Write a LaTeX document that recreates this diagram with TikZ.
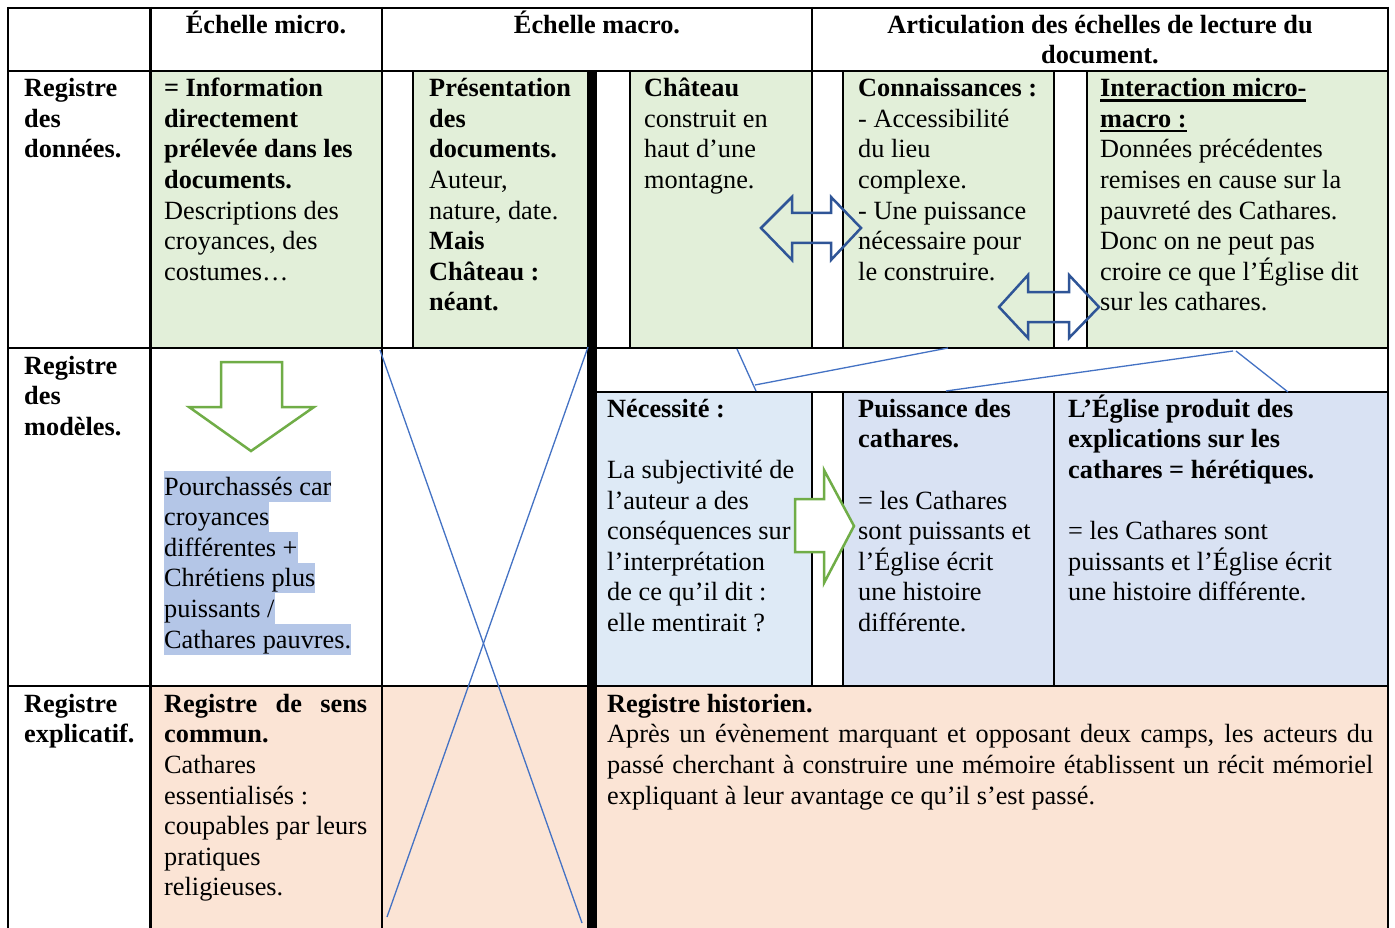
\documentclass[tikz,border=0pt]{standalone}
\usepackage{fontspec}
\setmainfont{Liberation Serif}
\definecolor{cgreen}{HTML}{E2EFD9}
\definecolor{cblueA}{HTML}{DEEAF6}
\definecolor{cblueB}{HTML}{D9E2F3}
\definecolor{cpeach}{HTML}{FBE4D5}
\definecolor{chl}{HTML}{B4C6E7}
\definecolor{carrowgreen}{HTML}{70AD47}
\definecolor{carrowblue}{HTML}{2F5597}
\definecolor{cthin}{HTML}{4472C4}
\newcommand\myul[1]{\setbox0\hbox{#1}\rlap{\rule[-5pt]{\wd0}{2.4pt}}\box0}
\newcommand\fs{\rule{0pt}{25pt}}
\begin{document}
\begin{tikzpicture}[x=1pt,y=-1pt,
  txt/.style={anchor=north west, yshift=25pt, align=left, inner sep=0pt, font=\fontsize{26.3}{30.6}\selectfont},
  ctr/.style={anchor=north, yshift=25pt, align=center, inner sep=0pt, font=\fontsize{26.3}{30.6}\selectfont\bfseries},
  grid/.style={line width=2pt, black},
  thinline/.style={cthin, line width=1.3pt},
  hl/.style={anchor=base west, inner sep=0pt, fill=chl, text height=24pt, text depth=6.6pt, font=\fontsize{26.3}{30.6}\selectfont},
  garrow/.style={draw=carrowgreen, line width=2.5pt, fill=white, line join=miter},
  barrow/.style={draw=carrowblue, line width=2.5pt, line join=miter}]
\useasboundingbox (0,0) rectangle (1395,928);
\fill[white] (0,0) rectangle (1395,928);
% cell fills
\fill[cgreen] (150,71) rectangle (382,348);
\fill[cgreen] (413,71) rectangle (587,348);
\fill[cgreen] (630,71) rectangle (812,348);
\fill[cgreen] (843,71) rectangle (1054,348);
\fill[cgreen] (1087,71) rectangle (1388,348);
\fill[cblueA] (597,392) rectangle (812,686);
\fill[cblueB] (843,392) rectangle (1388,686);
\fill[cpeach] (150,686) rectangle (587,928);
\fill[cpeach] (597,686) rectangle (1388,928);
% grid
\draw[grid] (8,8) -- (1388,8);
\draw[grid] (8,71) -- (1388,71);
\draw[grid] (8,348) -- (1388,348);
\draw[grid] (597,392) -- (1388,392);
\draw[grid] (8,686) -- (1388,686);
\draw[grid] (8,7) -- (8,928);
\draw[grid,line width=3pt] (150,7) -- (150,928);
\draw[grid] (382,7) -- (382,928);
\draw[grid] (413,71) -- (413,348);
\draw[grid] (630,71) -- (630,348);
\draw[grid] (812,7) -- (812,348);
\draw[grid] (812,392) -- (812,686);
\draw[grid] (843,71) -- (843,348);
\draw[grid] (843,392) -- (843,686);
\draw[grid] (1054,71) -- (1054,348);
\draw[grid] (1054,392) -- (1054,686);
\draw[grid] (1087,71) -- (1087,348);
\draw[grid] (1388,7) -- (1388,928);
\fill[black] (587,70) rectangle (597,928);
% header
\node[ctr] (h1) at (266,33) {\fs Échelle micro.};
\node[ctr] (h2) at (597,33) {\fs Échelle macro.};
\node[ctr] (h3) at (1100,33) {\fs Articulation des échelles de lecture du\\document.};
% row 1
\node[txt] (r1) at (24,96.5) {\fs\textbf{Registre}\\\textbf{des}\\\textbf{données.}};
\node[txt] (c11) at (164,96.5) {\fs\textbf{= Information}\\\textbf{directement}\\\textbf{prélevée dans les}\\\textbf{documents.}\\Descriptions des\\croyances, des\\costumes…};
\node[txt] (c12) at (429,96.5) {\fs\textbf{Présentation}\\\textbf{des}\\\textbf{documents.}\\Auteur,\\nature, date.\\\textbf{Mais}\\\textbf{Château :}\\\textbf{néant.}};
\node[txt] (c13) at (644,96.5) {\fs\textbf{Château}\\construit en\\haut d’une\\montagne.};
\node[txt] (c14) at (858,96.5) {\fs\textbf{Connaissances :}\\- Accessibilité\\du lieu\\complexe.\\- Une puissance\\nécessaire pour\\le construire.};
\node[txt] (c15) at (1100,96.5) {\fs\textbf{\myul{Interaction micro-}}\\\textbf{\myul{macro :}}\\Données précédentes\\remises en cause sur la\\pauvreté des Cathares.\\Donc on ne peut pas\\croire ce que l’Église dit\\sur les cathares.};
% row 2
\node[txt] (r2) at (24,374) {\fs\textbf{Registre}\\\textbf{des}\\\textbf{modèles.}};
\node[hl] (p1) at (164,495) {Pourchassés car\ };
\node[hl] (p2) at (164,525.6) {croyances\ };
\node[hl] (p3) at (164,556.2) {différentes +\ };
\node[hl] (p4) at (164,586.8) {Chrétiens plus\ };
\node[hl] (p5) at (164,617.4) {puissants /\ };
\node[hl] (p6) at (164,648) {Cathares pauvres.};
\node[txt] (c23) at (607,417) {\fs\textbf{Nécessité :}\\[30.6pt]La subjectivité de\\l’auteur a des\\conséquences sur\\l’interprétation\\de ce qu’il dit :\\elle mentirait ?};
\node[txt] (c24) at (858,417) {\fs\textbf{Puissance des}\\\textbf{cathares.}\\[30.6pt]= les Cathares\\sont puissants et\\l’Église écrit\\une histoire\\différente.};
\node[txt] (c25) at (1068,417) {\fs\textbf{L’Église produit des}\\\textbf{explications sur les}\\\textbf{cathares = hérétiques.}\\[30.6pt]= les Cathares sont\\puissants et l’Église écrit\\une histoire différente.};
% row 3
\node[txt] (r3) at (24,712) {\fs\textbf{Registre}\\\textbf{explicatif.}};
\node[txt] (c31) at (164,712) {\fs\textbf{\makebox[203pt][s]{Registre de sens}}\\\textbf{commun.}\\Cathares\\essentialisés :\\coupables par leurs\\pratiques\\religieuses.};
\node[txt] (c32) at (607,712) {\fs\textbf{Registre historien.}\\\makebox[766pt][s]{Après un évènement marquant et opposant deux camps, les acteurs du}\\\makebox[766pt][s]{passé cherchant à construire une mémoire établissent un récit mémoriel}\\expliquant à leur avantage ce qu’il s’est passé.};
% arrows
\draw[garrow] (221,362) -- (282,362) -- (282,407) -- (314,407) -- (251,451) -- (189,407) -- (221,407) -- cycle;
\draw[garrow] (795,499) -- (824,499) -- (824,470) -- (854,526) -- (824,583) -- (824,552) -- (795,552) -- cycle;
\draw[barrow] (761,228) -- (792,197) -- (792,213) -- (831,213) -- (831,197) -- (861,228) -- (831,260) -- (831,243) -- (792,243) -- (792,260) -- cycle;
\draw[barrow] (999,307) -- (1028,275) -- (1028,292) -- (1069,292) -- (1069,275) -- (1099,307) -- (1069,338) -- (1069,322) -- (1028,322) -- (1028,338) -- cycle;
% thin blue lines
\coordinate (xa1) at (380,350); \coordinate (xa2) at (582,923);
\coordinate (xb1) at (588,347); \coordinate (xb2) at (387,917);
\draw[thinline] (xa1) -- (xa2);
\draw[thinline] (xb1) -- (xb2);
\coordinate (la1) at (737,349); \coordinate (la2) at (756,391);
\coordinate (lb1) at (755,385); \coordinate (lb2) at (948,348);
\draw[thinline] (la1) -- (la2);
\draw[thinline] (lb1) -- (lb2);
\coordinate (lc1) at (946,391); \coordinate (lc2) at (1233,351);
\coordinate (ld1) at (1236,351); \coordinate (ld2) at (1288,392);
\draw[thinline] (lc1) -- (lc2);
\draw[thinline] (ld1) -- (ld2);
\end{tikzpicture}
\end{document}
